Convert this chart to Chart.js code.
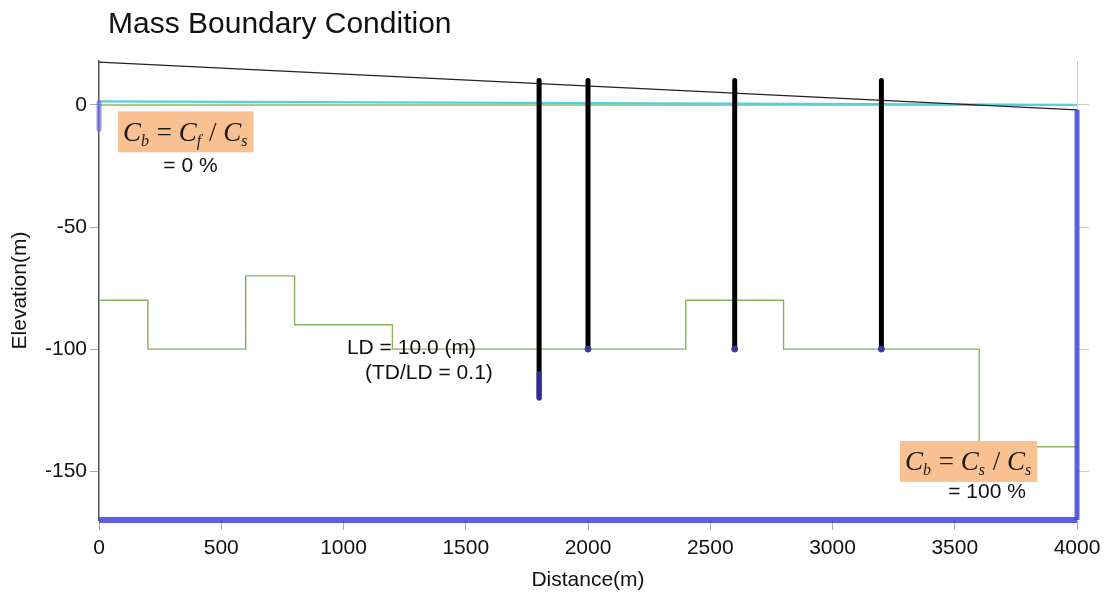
<!DOCTYPE html>
<html>
<head>
<meta charset="utf-8">
<script src="https://cdn.jsdelivr.net/npm/chart.js@4"></script>
<style>
  html, body { margin: 0; padding: 0; background: #fff; }
  #wrap { width: 1114px; height: 595px; }
</style>
</head>
<body>
<div id="wrap"><canvas id="chart" width="1114" height="595"></canvas></div>
<script>
// axis ticks
const xTicks = [0, 500, 1000, 1500, 2000, 2500, 3000, 3500, 4000];
const yTicks = [-150, -100, -50, 0];

// ground surface (black) and water levels
const surfaceX = [0, 4000];
const surfaceY = [17.5, -2];
const cyanX = [0, 4000];
const cyanY = [1.5, 0];
const greenX = [0, 4000];
const greenY = [0, 0];

// layer boundary (stepped green line)
const layerX = [0, 200, 600, 800, 1200, 2400, 2800, 3600, 4000];
const layerY = [-80, -100, -70, -90, -100, -80, -100, -140, -140];

// wells
const wellX = [1800, 2000, 2600, 3200];
const wellTop = [10, 10, 10, 10];
const wellBottom = [-120, -100, -100, -100];

// mass boundary nodes
const leftBndX = [0, 0];
const leftBndY = [1, -10];
const rightBndX = [4000, 4000];
const rightBndY = [-2, -170];
const bottomBndX = [0, 4000];
const bottomBndY = [-170, -170];
const screenX = [1800, 1800];
const screenY = [-110, -120];

const pts = (xs, ys) => xs.map((x, i) => ({ x: x, y: ys[i] }));

function wellPoints() {
  const out = [];
  wellX.forEach((x, i) => {
    out.push({ x: x, y: wellTop[i] });
    out.push({ x: x, y: wellBottom[i] });
    out.push({ x: x, y: null });
  });
  return out;
}

const SANS = '"Liberation Sans", Arial, sans-serif';
const SERIF = '"Liberation Serif", "Times New Roman", serif';

// formula boxes: [text, kind] kind 0 = main italic, 1 = subscript, 2 = operator
const formulas = [
  { x: 78, y: -11, parts: [['C', 0], ['b', 1], [' = ', 2], ['C', 0], ['f', 1], [' / ', 2], ['C', 0], ['s', 1]] },
  { x: 3276, y: -146, parts: [['C', 0], ['b', 1], [' = ', 2], ['C', 0], ['s', 1], [' / ', 2], ['C', 0], ['s', 1]] }
];
const notes = [
  { x: 374, y: -25, text: '= 0 %', align: 'center' },
  { x: 3632, y: -158.5, text: '= 100 %', align: 'center' },
  { x: 1014, y: -99.5, text: 'LD = 10.0 (m)', align: 'left' },
  { x: 1088, y: -110, text: '(TD/LD = 0.1)', align: 'left' }
];

const annotationPlugin = {
  id: 'annotations',
  afterDatasetsDraw(chart) {
    const ctx = chart.ctx;
    const xs = chart.scales.x, ys = chart.scales.y;
    ctx.save();
    formulas.forEach(f => {
      const fonts = [
        'italic 27px ' + SERIF,
        'italic 16px ' + SERIF,
        '27px ' + SERIF
      ];
      let w = 0;
      f.parts.forEach(p => { ctx.font = fonts[p[1]]; w += ctx.measureText(p[0]).width + (p[1] === 1 ? 1 : 0); });
      const left = xs.getPixelForValue(f.x);
      const cy = ys.getPixelForValue(f.y);
      const padX = 5, h = 41;
      ctx.fillStyle = '#f9c192';
      ctx.fillRect(left, cy - h / 2, w + padX * 2, h);
      ctx.fillStyle = '#1a1a1a';
      ctx.textBaseline = 'alphabetic';
      ctx.textAlign = 'left';
      let cx = left + padX;
      const base = cy + 9;
      f.parts.forEach(p => {
        ctx.font = fonts[p[1]];
        ctx.fillText(p[0], cx, p[1] === 1 ? base + 5 : base);
        cx += ctx.measureText(p[0]).width + (p[1] === 1 ? 1 : 0);
      });
    });
    ctx.font = '21px ' + SANS;
    ctx.fillStyle = '#111';
    ctx.textBaseline = 'middle';
    notes.forEach(n => {
      ctx.textAlign = n.align;
      ctx.fillText(n.text, xs.getPixelForValue(n.x), ys.getPixelForValue(n.y));
    });
    // chart title
    ctx.font = '30px ' + SANS;
    ctx.textAlign = 'left';
    ctx.fillText('Mass Boundary Condition', 108, 25);
    ctx.restore();
  }
};

const fixedTicks = list => scale => { scale.ticks = list.map(v => ({ value: v })); };

const bandColor = 'rgba(60, 60, 220, 0.82)';

new Chart(document.getElementById('chart'), {
  type: 'scatter',
  data: {
    datasets: [
      { data: pts(bottomBndX, bottomBndY), showLine: true, borderColor: bandColor, borderWidth: 6, pointRadius: 0, clip: false },
      { data: pts(rightBndX, rightBndY), showLine: true, borderColor: bandColor, borderWidth: 5, pointRadius: 0, clip: false },
      { data: pts(leftBndX, leftBndY), showLine: true, borderColor: 'rgba(110, 110, 228, 0.7)', borderWidth: 5, pointRadius: 0, clip: false, borderCapStyle: 'round' },
      { data: pts(screenX, screenY), showLine: true, borderColor: 'rgba(50, 50, 170, 0.9)', borderWidth: 5, pointRadius: 0, clip: false, borderCapStyle: 'round' },
      { data: pts(wellX.slice(1), wellBottom.slice(1)), showLine: false, pointRadius: 3, pointBackgroundColor: '#3a3a9a', pointBorderColor: '#3a3a9a', clip: false },
      { data: wellPoints(), showLine: true, spanGaps: false, borderColor: '#000', borderWidth: 5, pointRadius: 0, borderCapStyle: 'round', clip: false },
      { data: pts(surfaceX, surfaceY), showLine: true, borderColor: '#222', borderWidth: 1.3, pointRadius: 0, clip: false },
      { data: pts(cyanX, cyanY), showLine: true, borderColor: '#52cfe3', borderWidth: 2.2, pointRadius: 0, clip: false },
      { data: pts(greenX, greenY), showLine: true, borderColor: '#8cbb5e', borderWidth: 1.6, pointRadius: 0, clip: false },
      { data: pts(layerX, layerY), showLine: true, stepped: 'before', borderColor: '#86b45a', borderWidth: 1.4, pointRadius: 0, clip: false }
    ]
  },
  options: {
    responsive: false,
    animation: false,
    layout: { padding: { top: 61, left: 0, right: 0, bottom: 0 } },
    plugins: {
      legend: { display: false },
      tooltip: { enabled: false },
      title: { display: false }
    },
    scales: {
      x: {
        type: 'linear',
        min: 0,
        max: 4000,
        afterBuildTicks: fixedTicks(xTicks),
        afterFit: s => { s.height = 75; },
        grid: { drawOnChartArea: false, tickLength: 10, color: '#aaa' },
        border: { display: false },
        ticks: { color: '#111', font: { family: SANS, size: 21 }, padding: 6, maxRotation: 0, callback: v => String(v) },
        title: { display: true, text: 'Distance(m)', color: '#111', font: { family: SANS, size: 21 }, padding: { top: 0, bottom: 2 } }
      },
      y: {
        type: 'linear',
        position: 'left',
        min: -170,
        max: 18,
        afterBuildTicks: fixedTicks(yTicks),
        afterFit: s => { s.width = 99; },
        grid: { drawOnChartArea: false, tickLength: 9, color: '#aaa' },
        border: { display: true, color: '#555', width: 1.5 },
        ticks: { color: '#111', font: { family: SANS, size: 21 }, padding: 3, callback: v => String(v) },
        title: { display: true, text: 'Elevation(m)', color: '#111', font: { family: SANS, size: 21 }, padding: { top: 8, bottom: 0 } }
      },
      y2: {
        type: 'linear',
        position: 'right',
        min: -170,
        max: 18,
        afterBuildTicks: fixedTicks(yTicks),
        afterFit: s => { s.width = 37; },
        grid: { drawOnChartArea: false, tickLength: 12, color: '#ccc' },
        border: { display: true, color: '#ccc', width: 1 },
        ticks: { display: false }
      }
    }
  },
  plugins: [annotationPlugin]
});
</script>
</body>
</html>
